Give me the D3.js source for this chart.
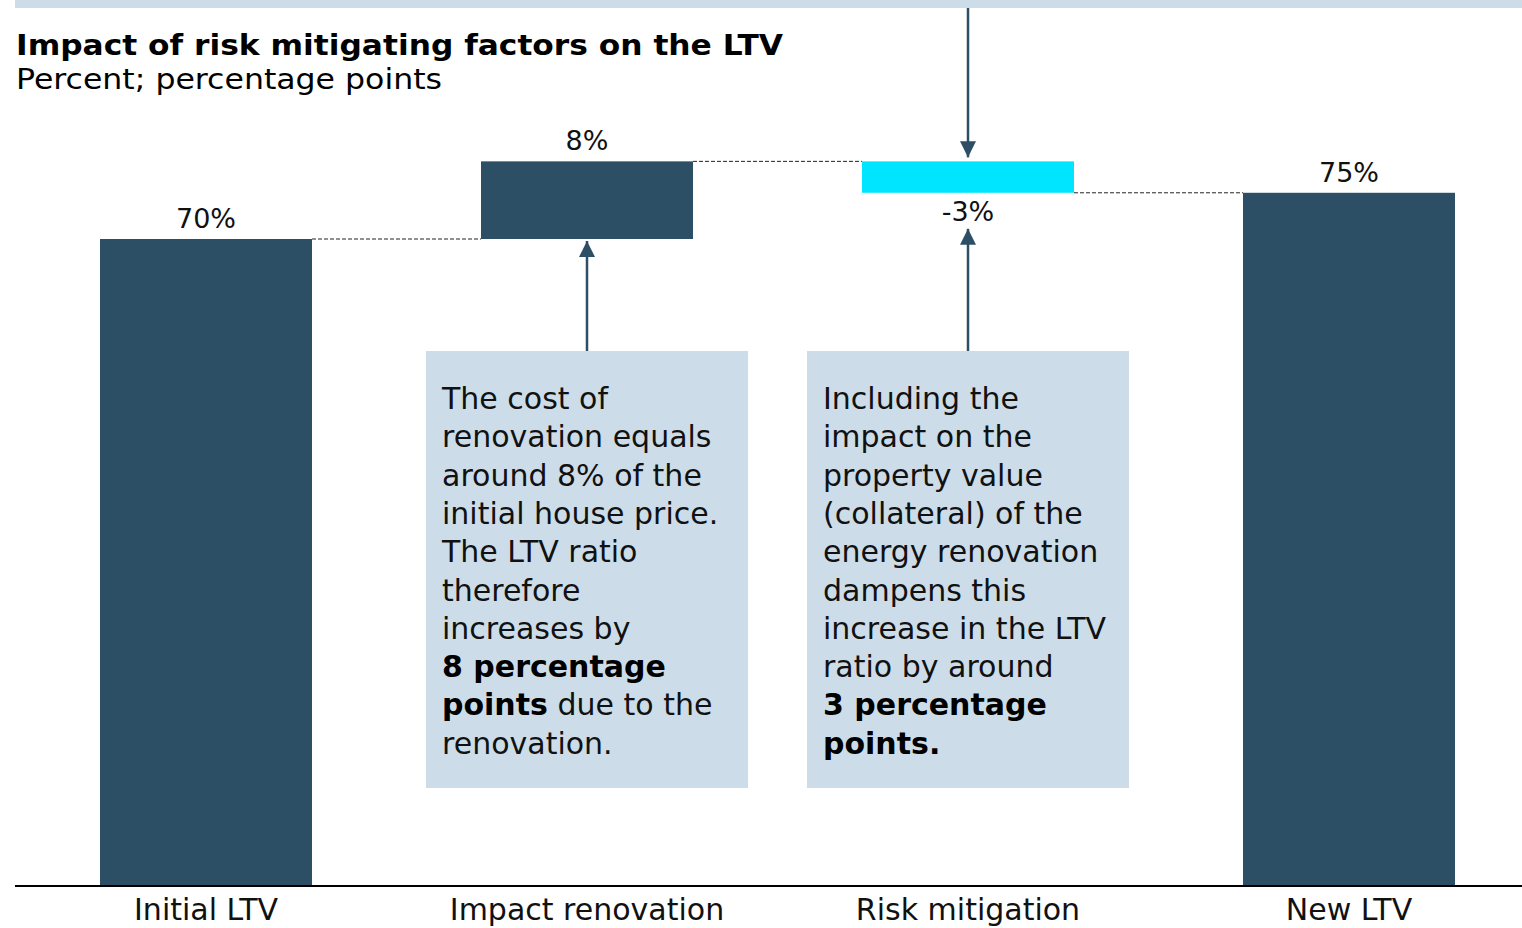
<!DOCTYPE html>
<html><head><meta charset="utf-8">
<script src="https://cdn.jsdelivr.net/npm/d3@7"></script>
<style>
html,body{margin:0;padding:0;background:#fff;}
svg{display:block;}
text{font-family:"DejaVu Sans",sans-serif;}
</style></head>
<body><svg id="c" width="1522" height="928"></svg>
<script>
// ---- data ----
const categories = ["Initial LTV", "Impact renovation", "Risk mitigation", "New LTV"];
const values = [70, 8.4, -3.4, 75];
const barTypes = ["total", "delta", "delta", "total"];
const valueLabels = ["70%", "8%", "-3%", "75%"];
const title = "Impact of risk mitigating factors on the LTV";
const subtitle = "Percent; percentage points";
const note1 = [
  [["The cost of", false]],
  [["renovation equals", false]],
  [["around 8% of the", false]],
  [["initial house price.", false]],
  [["The LTV ratio", false]],
  [["therefore", false]],
  [["increases by", false]],
  [["8 percentage", true]],
  [["points", true], [" due to the", false]],
  [["renovation.", false]]
];
const note2 = [
  [["Including the", false]],
  [["impact on the", false]],
  [["property value", false]],
  [["(collateral) of the", false]],
  [["energy renovation", false]],
  [["dampens this", false]],
  [["increase in the LTV", false]],
  [["ratio by around", false]],
  [["3 percentage", true]],
  [["points.", true]]
];

// ---- colours ----
const dark = "#2c4f65", cyan = "#00e5ff", pale = "#ccdde9";

const svg = d3.select("#c");

// compute waterfall positions
let run = 0;
const bars = values.map((v, i) => {
  let y0, y1;
  if (barTypes[i] === "total") { y0 = 0; y1 = v; run = v; }
  else { y0 = run; y1 = run + v; run = y1; }
  return {cat: categories[i], v, lo: Math.min(y0, y1), hi: Math.max(y0, y1), end: y1, start: y0, type: barTypes[i], label: valueLabels[i]};
});

const x = d3.scaleBand().domain(categories).range([15.5, 1539.5]).paddingInner(0.4436).paddingOuter(0.2218);
const y = d3.scaleLinear().domain([0, 70]).range([886, 239]);

// top pale strip
svg.append("rect").attr("x", 15).attr("y", 0).attr("width", 1507).attr("height", 8).attr("fill", pale);

// title
svg.append("text").attr("x", 16).attr("y", 55).attr("font-size", 29).attr("font-weight", "bold")
  .attr("textLength", 767).attr("lengthAdjust", "spacingAndGlyphs").text(title);
svg.append("text").attr("x", 16).attr("y", 89).attr("font-size", 28)
  .attr("textLength", 426).attr("lengthAdjust", "spacingAndGlyphs").text(subtitle);

// connectors
for (let i = 0; i < bars.length - 1; i++) {
  svg.append("line")
    .attr("x1", x(categories[i]) + x.bandwidth()).attr("x2", x(categories[i + 1]))
    .attr("y1", y(bars[i].end)).attr("y2", y(bars[i].end))
    .attr("stroke", "#222").attr("stroke-width", 1).attr("stroke-dasharray", "4,2");
}

// bars
svg.selectAll("rect.bar").data(bars).join("rect").attr("class", "bar")
  .attr("x", d => x(d.cat)).attr("width", x.bandwidth())
  .attr("y", d => y(d.hi)).attr("height", d => y(d.lo) - y(d.hi))
  .attr("fill", d => d.v < 0 ? cyan : dark);

// value labels
svg.selectAll("text.vl").data(bars).join("text").attr("class", "vl")
  .attr("x", d => x(d.cat) + x.bandwidth() / 2)
  .attr("y", d => d.v < 0 ? y(d.lo) + 28 : y(d.hi) - 11)
  .attr("text-anchor", "middle").attr("font-size", 27).attr("fill", "#111")
  .text(d => d.label);

// axis
const ax = svg.append("g").attr("transform", "translate(0,886)")
  .call(d3.axisBottom(x).tickSize(0).tickPadding(10));
ax.select(".domain").remove();
ax.selectAll("text").attr("font-size", 30).attr("fill", "#111").attr("font-family", "DejaVu Sans").attr("dy", "0.71em");
ax.selectAll(".tick text").attr("y", 13);
svg.append("line").attr("x1", 15).attr("x2", 1522).attr("y1", 886).attr("y2", 886).attr("stroke", "#000").attr("stroke-width", 2);

// arrow marker
const defs = svg.append("defs");
defs.append("marker").attr("id", "ah").attr("viewBox", "0 0 10 10").attr("refX", 10).attr("refY", 5)
  .attr("markerWidth", 16).attr("markerHeight", 17).attr("markerUnits", "userSpaceOnUse").attr("orient", "auto")
  .append("path").attr("d", "M0,0 L10,5 L0,10 Z").attr("fill", dark);

function arrow(cx, ya, yb) {
  svg.append("line").attr("x1", cx).attr("x2", cx).attr("y1", ya).attr("y2", yb)
    .attr("stroke", dark).attr("stroke-width", 2.5).attr("marker-end", "url(#ah)");
}

const boxTop = 351, boxBottom = 788;
const c1 = x(categories[1]) + x.bandwidth() / 2;
const c2 = x(categories[2]) + x.bandwidth() / 2;
arrow(c1, boxTop, y(bars[1].lo) + 2);
arrow(c2, boxTop, y(bars[2].lo) + 36);
arrow(c2, 8, y(bars[2].hi) - 4);

// annotation boxes
function note(cx, lines) {
  const bx = cx - 161, bw = 322;
  svg.append("rect").attr("x", bx).attr("y", boxTop).attr("width", bw).attr("height", boxBottom - boxTop).attr("fill", pale);
  lines.forEach((segs, i) => {
    const t = svg.append("text").attr("x", bx + 16).attr("y", 409 + i * 38.3).attr("font-size", 30).attr("fill", "#111");
    segs.forEach(([s, b]) => {
      t.append("tspan").attr("font-weight", b ? "bold" : "normal").attr("fill", b ? "#000" : "#111").text(s);
    });
  });
}
note(c1, note1);
note(c2, note2);
</script></body></html>
